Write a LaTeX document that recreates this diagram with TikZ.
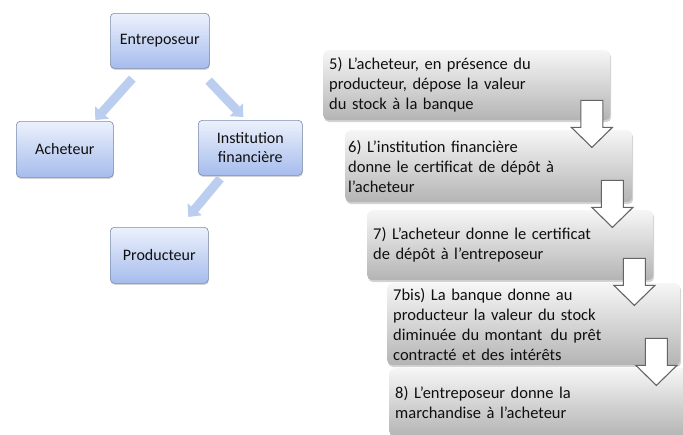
\documentclass[tikz,border=0pt]{standalone}
\usepackage{fontspec}
\setmainfont{Carlito}
\usetikzlibrary{arrows.meta,shadows,calc}
\definecolor{bluetop}{RGB}{236,241,252}
\definecolor{bluebot}{RGB}{166,188,237}
\definecolor{blueline}{RGB}{125,140,172}
\definecolor{arrowblue}{RGB}{188,206,240}
\definecolor{graytop}{RGB}{246,246,246}
\definecolor{graybot}{RGB}{180,180,180}
\definecolor{txt}{RGB}{15,15,15}
\definecolor{arrline}{RGB}{100,100,100}
\newcommand{\ap}{\char"27\relax}
\begin{document}
\begin{tikzpicture}[x=1pt,y=-1pt]
\useasboundingbox (0,0) rectangle (683,434);
\tikzset{
  bluebox/.style={draw=blueline, line width=0.6pt, rounded corners=4pt,
    top color=bluetop, bottom color=bluebot, anchor=north west,
    font=\fontsize{16}{19}\selectfont, align=center, text=txt, inner sep=2pt,
    drop shadow={shadow xshift=0.5pt, shadow yshift=-1.5pt, opacity=0.35}},
  graybox/.style={draw=none, rounded corners=5pt,
    top color=graytop, bottom color=graybot, anchor=north west,
    font=\fontsize{16.5}{20}\selectfont, align=left, text=txt, inner xsep=6pt, inner ysep=2pt,
    drop shadow={shadow xshift=1pt, shadow yshift=-2pt, opacity=0.35}},
  bluearr/.style={line width=9pt, draw=arrowblue, -{Triangle[width=18pt,length=10pt]}},
  dnarrow/.pic={\draw[line width=1.1pt, draw=arrline, fill=white, line join=miter]
    (-11,0) -- (11,0) -- (11,27) -- (20.5,27) -- (0,47) -- (-20.5,27) -- (-11,27) -- cycle;}
}
% left cycle
\node[bluebox, minimum width=99pt, minimum height=55pt] (entre) at (110,13) {Entreposeur};
\node[bluebox, minimum width=97pt, minimum height=56pt] (ach) at (16,121) {Acheteur};
\node[bluebox, minimum width=104pt, minimum height=55pt] (inst) at (198,120) {Institution\\financière};
\node[bluebox, minimum width=98pt, minimum height=56pt] (prod) at (110,227) {Producteur};

\draw[bluearr] ($(entre.south)+(-27.5,10)$) -- ($(ach.north)+(30.5,-1)$);
\draw[bluearr] ($(entre.south east)+(-1,12)$) -- ($(inst.north)+(-7,-3)$);
\draw[bluearr] ($(inst.south)+(-30,3)$) -- ($(prod.north)+(29,-10)$);

% right steps
\node[graybox, text width=275pt, minimum height=70pt] (b5) at (323,50)
  {5) L\ap acheteur, en présence du\\producteur, dépose la valeur\\du stock à la banque};
\node[graybox, inner xsep=3pt, text width=281pt, minimum height=72pt] (b6) at (345,130)
  {6) L\ap institution financière\\donne le certificat de dépôt à\\l\ap acheteur};
\node[graybox, text width=274pt, minimum height=70pt] (b7) at (367,210)
  {7) L\ap acheteur donne le certificat\\de dépôt à l\ap entreposeur};
\node[graybox, text width=281pt, minimum height=82pt] (b7b) at (387,283)
  {7bis) La banque donne au\\producteur la valeur du stock\\diminuée du montant\, du prêt\\contracté et des intérêts};
\node[graybox, text width=288pt, minimum height=68pt] (b8) at (389,368)
  {8) L\ap entreposeur donne la\\marchandise à l\ap acheteur};

\pic at ($(b5.south east)+(-18.5,-20)$) {dnarrow};
\pic at ($(b6.south east)+(-20,-22)$) {dnarrow};
\pic at ($(b7.south east)+(-19,-22)$) {dnarrow};
\pic at ($(b7b.south east)+(-24,-27)$) {dnarrow};
\end{tikzpicture}
\end{document}
